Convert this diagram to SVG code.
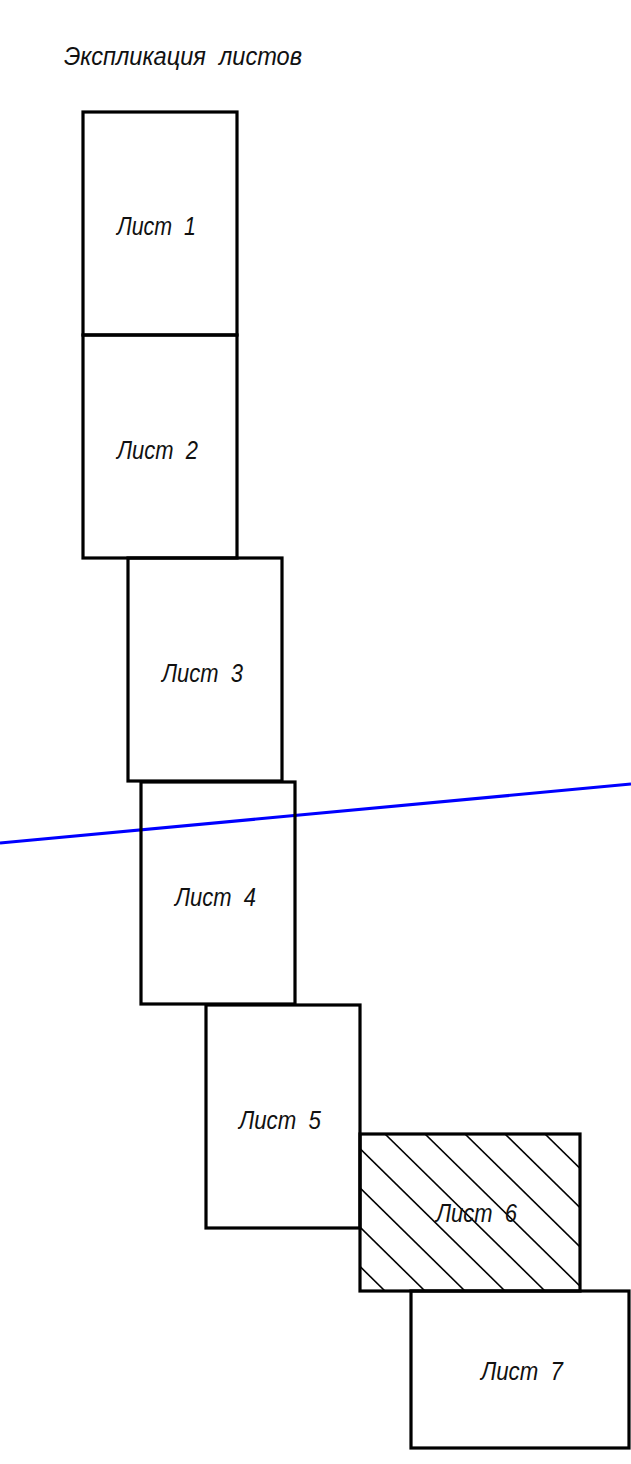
<svg xmlns="http://www.w3.org/2000/svg" width="631" height="1464" viewBox="0 0 631 1464">
<style>
.sheet{fill:none;stroke:#000;stroke-width:3.2;stroke-linejoin:miter}
.lbl{font-family:"Liberation Sans",Arial,sans-serif;font-style:italic;font-size:26px;fill:#111;white-space:pre}
.hatch{stroke:#000;stroke-width:1.6}
.axis{stroke:#0000ff;stroke-width:3.2;fill:none}
</style>
<defs>
<clipPath id="c6"><rect x="360" y="1134" width="220" height="157"/></clipPath>
</defs>
<rect width="631" height="1464" fill="#fff"/>
<text class="lbl" xml:space="preserve" x="64" y="65" textLength="238" lengthAdjust="spacingAndGlyphs">Экспликация  листов</text>
<g id="connectors">
<line class="axis" x1="0" y1="843" x2="631" y2="784"/>
</g>
<g id="sheet1"><rect class="sheet" x="83" y="112" width="154" height="223"/><text class="lbl" xml:space="preserve" x="117" y="235" textLength="79" lengthAdjust="spacingAndGlyphs">Лист  1</text></g>
<g id="sheet2"><rect class="sheet" x="83" y="335" width="154" height="223"/><text class="lbl" xml:space="preserve" x="117" y="459" textLength="81" lengthAdjust="spacingAndGlyphs">Лист  2</text></g>
<g id="sheet3"><rect class="sheet" x="128" y="558" width="154" height="223"/><text class="lbl" xml:space="preserve" x="162" y="682" textLength="81" lengthAdjust="spacingAndGlyphs">Лист  3</text></g>
<g id="sheet4"><rect class="sheet" x="141" y="782" width="154" height="222"/><text class="lbl" xml:space="preserve" x="175" y="906" textLength="81" lengthAdjust="spacingAndGlyphs">Лист  4</text></g>
<g id="sheet5"><rect class="sheet" x="206" y="1005" width="154" height="223"/><text class="lbl" xml:space="preserve" x="239" y="1129" textLength="82" lengthAdjust="spacingAndGlyphs">Лист  5</text></g>
<g id="sheet6">
<g clip-path="url(#c6)" class="hatch">
<line x1="185" y1="1134" x2="345" y2="1291"/>
<line x1="225" y1="1134" x2="385" y2="1291"/>
<line x1="265" y1="1134" x2="425" y2="1291"/>
<line x1="305" y1="1134" x2="465" y2="1291"/>
<line x1="345" y1="1134" x2="505" y2="1291"/>
<line x1="385" y1="1134" x2="545" y2="1291"/>
<line x1="425" y1="1134" x2="585" y2="1291"/>
<line x1="465" y1="1134" x2="625" y2="1291"/>
<line x1="505" y1="1134" x2="665" y2="1291"/>
<line x1="545" y1="1134" x2="705" y2="1291"/>
</g>
<rect class="sheet" x="360" y="1134" width="220" height="157"/>
<text class="lbl" xml:space="preserve" x="436" y="1222" textLength="81" lengthAdjust="spacingAndGlyphs">Лист  6</text>
</g>
<g id="sheet7"><rect class="sheet" x="411" y="1291" width="218" height="157"/><text class="lbl" xml:space="preserve" x="481" y="1380" textLength="82" lengthAdjust="spacingAndGlyphs">Лист  7</text></g>
</svg>
